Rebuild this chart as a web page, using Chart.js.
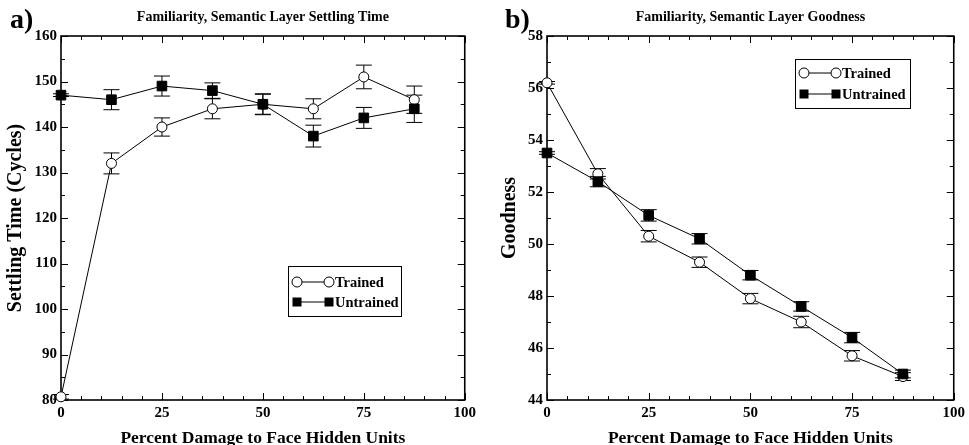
<!DOCTYPE html>
<html>
<head>
<meta charset="utf-8">
<script src="https://cdn.jsdelivr.net/npm/chart.js@4.4.0/dist/chart.umd.min.js"></script>
<style>
  body { margin: 0; background: #fff; }
  canvas { position: absolute; top: 0; }
</style>
</head>
<body>
<canvas id="settleChart" width="480" height="445" style="left:0"></canvas>
<canvas id="goodChart" width="489" height="445" style="left:480px"></canvas>
<script>
// percent damage levels
const damage = [0, 12.5, 25, 37.5, 50, 62.5, 75, 87.5];

// panel a) settling time (cycles)
const settleTrained = [80.7, 132, 140, 144, 145, 144, 151, 146];
const settleTrainedErr = [0.5, 2.3, 2.0, 2.2, 2.2, 2.2, 2.6, 3.0];
const settleUntrained = [147, 146, 149, 148, 145, 138, 142, 144];
const settleUntrainedErr = [0.3, 2.2, 2.2, 1.7, 2.3, 2.4, 2.3, 3.0];

// panel b) goodness
const goodTrained = [56.2, 52.7, 50.3, 49.3, 47.9, 47.0, 45.7, 44.9];
const goodTrainedErr = [0.05, 0.2, 0.22, 0.2, 0.2, 0.22, 0.2, 0.15];
const goodUntrained = [53.5, 52.4, 51.1, 50.2, 48.8, 47.6, 46.4, 45.0];
const goodUntrainedErr = [0.05, 0.2, 0.22, 0.2, 0.18, 0.18, 0.2, 0.15];

const FONT = "'Liberation Serif', 'Times New Roman', serif";
Chart.defaults.font.family = FONT;
Chart.defaults.font.weight = 'bold';
Chart.defaults.color = '#000';

function pts(ys) {
    return damage.map((d, i) => ({ x: d, y: ys[i] }));
}

function line(ctx, x1, y1, x2, y2) {
    ctx.beginPath();
    ctx.moveTo(x1, y1);
    ctx.lineTo(x2, y2);
    ctx.stroke();
}

function marker(ctx, style, x, y, r) {
    ctx.lineWidth = 1;
    ctx.strokeStyle = '#000';
    if (style === 'circle') {
        ctx.fillStyle = '#fff';
        ctx.beginPath();
        ctx.arc(x, y, r, 0, Math.PI * 2);
        ctx.fill();
        ctx.stroke();
    } else {
        ctx.fillStyle = '#000';
        ctx.fillRect(x - r, y - r, r * 2, r * 2);
    }
}

// frame, inward ticks, error bars, title, panel letter and legend
const panelDecor = {
    id: 'panelDecor',
    beforeDatasetsDraw(chart, args, opts) {
        const { ctx, chartArea: a, scales: { x, y } } = chart;
        ctx.save();
        ctx.strokeStyle = '#000';
        ctx.lineWidth = 1;
        for (let v = x.min; v <= x.max + 1e-9; v += opts.xMinor) {
            const px = Math.round(x.getPixelForValue(v)) + 0.5;
            const len = Math.abs(v % opts.xMajor) < 1e-9 ? 7 : 4;
            line(ctx, px, a.bottom, px, a.bottom - len);
            line(ctx, px, a.top, px, a.top + len);
        }
        for (let v = y.min; v <= y.max + 1e-9; v += opts.yMinor) {
            const py = Math.round(y.getPixelForValue(v)) + 0.5;
            const len = Math.abs((v - y.min) % opts.yMajor) < 1e-9 ? 7 : 4;
            line(ctx, a.left, py, a.left + len, py);
            line(ctx, a.right, py, a.right - len, py);
        }
        ctx.lineWidth = 1.6;
        ctx.strokeRect(a.left, a.top, a.right - a.left, a.bottom - a.top);

        // error bars
        ctx.lineWidth = 1;
        chart.data.datasets.forEach((ds, i) => {
            const meta = chart.getDatasetMeta(i);
            meta.data.forEach((pt, j) => {
                const v = ds.data[j].y;
                const e = ds.errors[j];
                const top = y.getPixelForValue(v + e);
                const bot = y.getPixelForValue(v - e);
                line(ctx, pt.x, top, pt.x, bot);
                line(ctx, pt.x - 8, top, pt.x + 8, top);
                line(ctx, pt.x - 8, bot, pt.x + 8, bot);
            });
        });
        ctx.restore();
    },
    afterDraw(chart, args, opts) {
        const { ctx, chartArea: a } = chart;
        ctx.save();
        ctx.fillStyle = '#000';
        ctx.textBaseline = 'middle';
        ctx.textAlign = 'center';
        ctx.font = 'bold 14px ' + FONT;
        ctx.fillText(opts.title, (a.left + a.right) / 2, 17);

        ctx.textAlign = 'left';
        ctx.textBaseline = 'alphabetic';
        ctx.font = 'bold 28px ' + FONT;
        ctx.fillText(opts.letter, opts.letterX, 28);

        // legend
        const L = opts.legend;
        ctx.lineWidth = 1;
        ctx.strokeStyle = '#000';
        ctx.strokeRect(L.x + 0.5, L.y + 0.5, L.w, L.h);
        ctx.font = 'bold 14.5px ' + FONT;
        ctx.textBaseline = 'middle';
        L.order.forEach((di, k) => {
            const ds = chart.data.datasets[di];
            const cy = L.y + L.rowTop + k * L.rowGap;
            const x1 = L.x + 9, x2 = L.x + 41;
            ctx.fillStyle = '#000';
            line(ctx, x1, cy, x2, cy);
            const r = ds.pointStyle === 'circle' ? 5 : 4.5;
            marker(ctx, ds.pointStyle, x1, cy, r);
            marker(ctx, ds.pointStyle, x2, cy, r);
            ctx.fillStyle = '#000';
            ctx.fillText(ds.label, L.x + 47, cy + 1);
        });
        ctx.restore();
    }
};

function makeChart(id, cfg) {
    const dsBase = {
        borderColor: '#000',
        borderWidth: 1,
        pointBorderColor: '#000',
        pointBorderWidth: 1,
        pointHoverRadius: 0,
        tension: 0,
        clip: false
    };
    return new Chart(document.getElementById(id), {
        type: 'line',
        data: {
            datasets: [
                Object.assign({}, dsBase, {
                    label: 'Trained',
                    data: pts(cfg.trained),
                    errors: cfg.trainedErr,
                    pointStyle: 'circle',
                    pointRadius: 5,
                    pointBackgroundColor: '#fff',
                    order: 1
                }),
                Object.assign({}, dsBase, {
                    label: 'Untrained',
                    data: pts(cfg.untrained),
                    errors: cfg.untrainedErr,
                    pointStyle: 'rect',
                    pointRadius: 6.8,
                    pointBackgroundColor: '#000',
                    order: 0
                })
            ]
        },
        options: {
            responsive: false,
            animation: false,
            events: [],
            layout: { padding: { top: 36, right: cfg.padRight, left: 0, bottom: 0 } },
            scales: {
                x: {
                    type: 'linear',
                    min: 0,
                    max: 100,
                    grid: { display: false, drawTicks: false },
                    border: { display: false },
                    ticks: { stepSize: 25, padding: 4, font: { size: 15, weight: 'bold' }, maxRotation: 0 },
                    title: {
                        display: true,
                        text: 'Percent Damage to Face Hidden Units',
                        font: { size: 17.5, weight: 'bold', lineHeight: 1 },
                        padding: { top: 0, bottom: -2 }
                    },
                    afterFit: (s) => { s.height = 45; }
                },
                y: {
                    min: cfg.yMin,
                    max: cfg.yMax,
                    grid: { display: false, drawTicks: false },
                    border: { display: false },
                    ticks: { stepSize: cfg.yStep, padding: 4, font: { size: 15, weight: 'bold' } },
                    title: {
                        display: true,
                        text: cfg.yTitle,
                        font: { size: 20, weight: 'bold', lineHeight: 1 },
                        padding: { top: cfg.yTitlePad, bottom: 0 }
                    },
                    afterFit: (s) => { s.width = cfg.yWidth; }
                }
            },
            plugins: {
                legend: { display: false },
                tooltip: { enabled: false },
                panelDecor: {
                    title: cfg.title,
                    letter: cfg.letter,
                    letterX: cfg.letterX,
                    xMinor: 5, xMajor: 25,
                    yMinor: cfg.yMinor, yMajor: cfg.yStep,
                    legend: cfg.legend
                }
            }
        },
        plugins: [panelDecor]
    });
}

makeChart('settleChart', {
    trained: settleTrained, trainedErr: settleTrainedErr,
    untrained: settleUntrained, untrainedErr: settleUntrainedErr,
    yMin: 80, yMax: 160, yStep: 10, yMinor: 5,
    yTitle: 'Settling Time (Cycles)', yTitlePad: 6, yWidth: 61, padRight: 14,
    title: 'Familiarity, Semantic Layer Settling Time',
    letter: 'a)', letterX: 10,
    legend: { x: 288, y: 266, w: 113, h: 50, rowTop: 16, rowGap: 20, order: [0, 1] }
});

makeChart('goodChart', {
    trained: goodTrained, trainedErr: goodTrainedErr,
    untrained: goodUntrained, untrainedErr: goodUntrainedErr,
    yMin: 44, yMax: 58, yStep: 2, yMinor: 1,
    yTitle: 'Goodness', yTitlePad: 20, yWidth: 67, padRight: 10,
    title: 'Familiarity, Semantic Layer Goodness',
    letter: 'b)', letterX: 25,
    legend: { x: 315, y: 59, w: 115, h: 49, rowTop: 14, rowGap: 21, order: [0, 1] }
});
</script>
</body>
</html>
